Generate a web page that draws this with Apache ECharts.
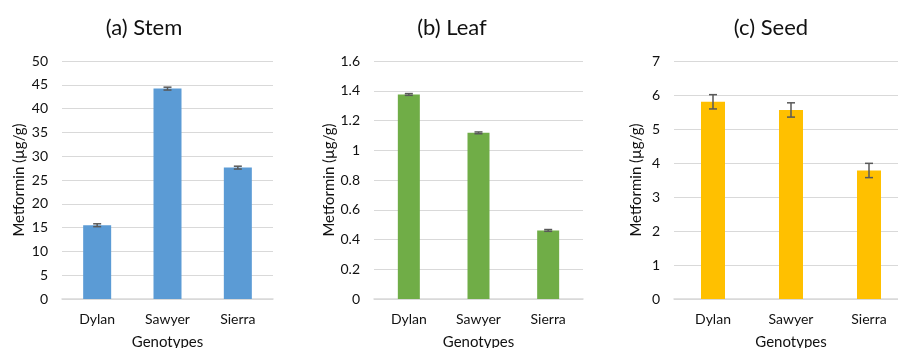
<!DOCTYPE html>
<html>
<head>
<meta charset="utf-8">
<script src="https://cdn.jsdelivr.net/npm/echarts@6/dist/echarts.min.js"></script>
<style>
  html, body { margin: 0; padding: 0; background: #fff; }
  #chart { width: 898px; height: 348px; }
</style>
</head>
<body>
<div id="chart"></div>
<script>
// Metformin content by genotype in three plant tissues
const genotypes = ['Dylan', 'Sawyer', 'Sierra'];

const stemValues = [15.5, 44.2, 27.6];
const stemErrors = [0.3, 0.3, 0.3];

const leafValues = [1.375, 1.117, 0.461];
const leafErrors = [0.006, 0.006, 0.006];

const seedValues = [5.80, 5.56, 3.78];
const seedErrors = [0.21, 0.21, 0.21];

const stemTicks = { min: 0, max: 50, interval: 5 };
const leafTicks = { min: 0, max: 1.6, interval: 0.2 };
const seedTicks = { min: 0, max: 7, interval: 1 };

const FONT = 'Lato, "Open Sans", sans-serif';

const panels = [
  { title: '(a) Stem', values: stemValues, errors: stemErrors, ticks: stemTicks,
    color: '#5B9BD5', left: 62, width: 211, titleX: 139, barWidth: 28, nameGap: 35 },
  { title: '(b) Leaf', values: leafValues, errors: leafErrors, ticks: leafTicks,
    color: '#70AD47', left: 374, width: 209, titleX: 447, barWidth: 22, nameGap: 37 },
  { title: '(c) Seed', values: seedValues, errors: seedErrors, ticks: seedTicks,
    color: '#FFC000', left: 674, width: 234, titleX: 766, barWidth: 24, nameGap: 30 }
];

const chart = echarts.init(document.getElementById('chart'), null, { renderer: 'canvas' });

const option = {
  animation: false,
  backgroundColor: '#ffffff',
  title: panels.map(p => ({
    text: p.title,
    left: p.titleX,
    top: 12,
    textAlign: 'center',
    textStyle: { fontFamily: FONT, fontSize: 22, fontWeight: 'normal', color: '#111' }
  })),
  grid: panels.map(p => ({
    left: p.left, width: p.width, top: 61, height: 238,
    containLabel: false, outerBoundsMode: 'none'
  })),
  xAxis: panels.map((p, i) => ({
    type: 'category',
    gridIndex: i,
    data: genotypes,
    name: 'Genotypes',
    nameLocation: 'middle',
    nameGap: 36,
    nameTextStyle: { fontFamily: FONT, fontSize: 15, color: '#111' },
    axisLine: { show: true, lineStyle: { color: '#D9D9D9', width: 1.5 } },
    axisTick: { show: false },
    axisLabel: { fontFamily: FONT, fontSize: 14, color: '#111', margin: 13 }
  })),
  yAxis: panels.map((p, i) => ({
    type: 'value',
    gridIndex: i,
    min: p.ticks.min,
    max: p.ticks.max,
    interval: p.ticks.interval,
    name: 'Metformin (µg/g)',
    nameLocation: 'middle',
    nameGap: p.nameGap,
    nameTextStyle: { fontFamily: FONT, fontSize: 15, color: '#111' },
    axisLine: { show: false },
    axisTick: { show: false },
    axisLabel: { fontFamily: FONT, fontSize: 14, color: '#111', margin: 14 },
    splitLine: { show: true, lineStyle: { color: '#D9D9D9', width: 1 } }
  })),
  series: []
};

panels.forEach((p, i) => {
  option.series.push({
    type: 'bar',
    xAxisIndex: i,
    yAxisIndex: i,
    data: p.values,
    barWidth: p.barWidth,
    itemStyle: { color: p.color },
    z: 2
  });
  // error bars (mean ± error) with caps
  option.series.push({
    type: 'custom',
    xAxisIndex: i,
    yAxisIndex: i,
    z: 5,
    data: p.values.map((v, k) => [k, v - p.errors[k], v + p.errors[k]]),
    renderItem: function (params, api) {
      const x = api.coord([api.value(0), 0])[0];
      const lo = api.coord([api.value(0), api.value(1)])[1];
      const hi = api.coord([api.value(0), api.value(2)])[1];
      const cap = 4;
      const style = { stroke: '#595959', lineWidth: 1.5, fill: null };
      return {
        type: 'group',
        children: [
          { type: 'line', shape: { x1: x, y1: lo, x2: x, y2: hi }, style: style },
          { type: 'line', shape: { x1: x - cap, y1: hi, x2: x + cap, y2: hi }, style: style },
          { type: 'line', shape: { x1: x - cap, y1: lo, x2: x + cap, y2: lo }, style: style }
        ]
      };
    }
  });
});

chart.setOption(option);
</script>
</body>
</html>
